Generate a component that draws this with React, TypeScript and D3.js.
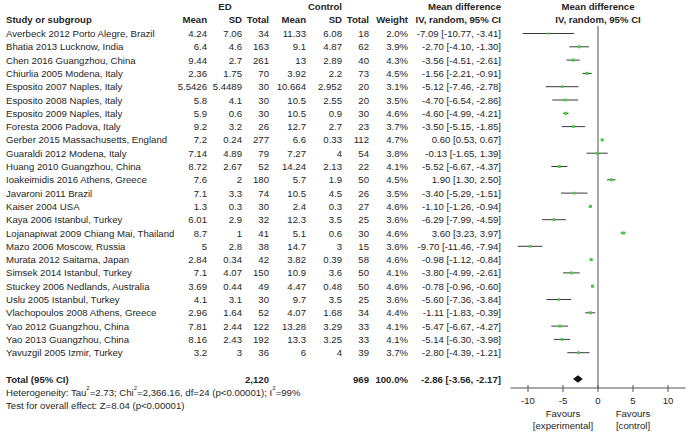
import React from "react";
import * as d3 from "d3";

const studies = [
  "Averbeck 2012 Porto Alegre, Brazil",
  "Bhatia 2013 Lucknow, India",
  "Chen 2016 Guangzhou, China",
  "Chiurlia 2005 Modena, Italy",
  "Esposito 2007 Naples, Italy",
  "Esposito 2008 Naples, Italy",
  "Esposito 2009 Naples, Italy",
  "Foresta 2006 Padova, Italy",
  "Gerber 2015 Massachusetts, England",
  "Guaraldi 2012 Modena, Italy",
  "Huang 2010 Guangzhou, China",
  "Ioakeimidis 2016 Athens, Greece",
  "Javaroni 2011 Brazil",
  "Kaiser 2004 USA",
  "Kaya 2006 Istanbul, Turkey",
  "Lojanapiwat 2009 Chiang Mai, Thailand",
  "Mazo 2006 Moscow, Russia",
  "Murata 2012 Saitama, Japan",
  "Simsek 2014 Istanbul, Turkey",
  "Stuckey 2006 Nedlands, Australia",
  "Uslu 2005 Istanbul, Turkey",
  "Vlachopoulos 2008 Athens, Greece",
  "Yao 2012 Guangzhou, China",
  "Yao 2013 Guangzhou, China",
  "Yavuzgil 2005 Izmir, Turkey",
];
const edMean = ["4.24","6.4","9.44","2.36","5.5426","5.8","5.9","9.2","7.2","7.14","8.72","7.6","7.1","1.3","6.01","8.7","5","2.84","7.1","3.69","4.1","2.96","7.81","8.16","3.2"];
const edSD = ["7.06","4.6","2.7","1.75","5.4489","4.1","0.6","3.2","0.24","4.89","2.67","2","3.3","0.3","2.9","1","2.8","0.34","4.07","0.44","3.1","1.64","2.44","2.43","3"];
const edTotal = ["34","163","261","70","30","30","30","26","277","79","52","180","74","30","32","41","38","42","150","49","30","52","122","192","36"];
const ctlMean = ["11.33","9.1","13","3.92","10.664","10.5","10.5","12.7","6.6","7.27","14.24","5.7","10.5","2.4","12.3","5.1","14.7","3.82","10.9","4.47","9.7","4.07","13.28","13.3","6"];
const ctlSD = ["6.08","4.87","2.89","2.2","2.952","2.55","0.9","2.7","0.33","4","2.13","1.9","4.5","0.3","3.5","0.6","3","0.39","3.6","0.48","3.5","1.68","3.29","3.25","4"];
const ctlTotal = ["18","62","40","73","20","20","30","23","112","54","22","50","26","27","25","30","15","58","50","50","25","34","33","33","39"];
const weights = [2.0,3.9,4.3,4.5,3.1,3.5,4.6,3.7,4.7,3.8,4.1,4.5,3.5,4.6,3.6,4.6,3.6,4.6,4.1,4.6,3.6,4.4,4.1,4.1,3.7];
const md = [-7.09,-2.70,-3.56,-1.56,-5.12,-4.70,-4.60,-3.50,0.60,-0.13,-5.52,1.90,-3.40,-1.10,-6.29,3.60,-9.70,-0.98,-3.80,-0.78,-5.60,-1.11,-5.47,-5.14,-2.80];
const lo = [-10.77,-4.10,-4.51,-2.21,-7.46,-6.54,-4.99,-5.15,0.53,-1.65,-6.67,1.30,-5.29,-1.26,-7.99,3.23,-11.46,-1.12,-4.99,-0.96,-7.36,-1.83,-6.67,-6.30,-4.39];
const hi = [-3.41,-1.30,-2.61,-0.91,-2.78,-2.86,-4.21,-1.85,0.67,1.39,-4.37,2.50,-1.51,-0.94,-4.59,3.97,-7.94,-0.84,-2.61,-0.60,-3.84,-0.39,-4.27,-3.98,-1.21];

const totalED = "2,120";
const totalCtl = "969";
const totalWeight = "100.0%";
const totalMD = -2.86;
const totalLo = -3.56;
const totalHi = -2.17;
const axisTicks = [-10, -5, 0, 5, 10];
const xDomain = [-12.5, 12.5];

const FONT = "'Liberation Sans', Arial, sans-serif";
const FS = 9.6;
const TXT = "#262626";

const fmt = (v: number) => v.toFixed(2);

export default function App() {
  const x = d3.scaleLinear().domain(xDomain).range([510.5, 685.5]);
  const y = (i: number) => 33.5 + i * 13.3;
  const sq = d3.scaleSqrt().domain([0, 4.7]).range([0, 3.1]);
  const axisY = 388;
  const totalY = 379;

  const cols = [
    { x: 207, arr: edMean },
    { x: 242, arr: edSD },
    { x: 269, arr: edTotal },
    { x: 306, arr: ctlMean },
    { x: 342, arr: ctlSD },
    { x: 369, arr: ctlTotal },
  ];

  const t = (props: any, content: any) => (
    <text fontFamily={FONT} fontSize={FS} fill={TXT} dominantBaseline="central" {...props}>
      {content}
    </text>
  );

  return (
    <svg width={690} height={432} style={{ position: "absolute", left: 0, top: 0, background: "#fff" }}>
      {/* headers */}
      {t({ x: 225, y: 6, textAnchor: "middle", fontWeight: "bold" }, "ED")}
      {t({ x: 325, y: 6, textAnchor: "middle", fontWeight: "bold" }, "Control")}
      {t({ x: 501, y: 6, textAnchor: "end", fontWeight: "bold" }, "Mean difference")}
      {t({ x: 598, y: 6, textAnchor: "middle", fontWeight: "bold" }, "Mean difference")}
      {t({ x: 6, y: 19.5, fontWeight: "bold" }, "Study or subgroup")}
      {t({ x: 207, y: 19.5, textAnchor: "end", fontWeight: "bold" }, "Mean")}
      {t({ x: 242, y: 19.5, textAnchor: "end", fontWeight: "bold" }, "SD")}
      {t({ x: 269, y: 19.5, textAnchor: "end", fontWeight: "bold" }, "Total")}
      {t({ x: 306, y: 19.5, textAnchor: "end", fontWeight: "bold" }, "Mean")}
      {t({ x: 342, y: 19.5, textAnchor: "end", fontWeight: "bold" }, "SD")}
      {t({ x: 369, y: 19.5, textAnchor: "end", fontWeight: "bold" }, "Total")}
      {t({ x: 408, y: 19.5, textAnchor: "end", fontWeight: "bold" }, "Weight")}
      {t({ x: 501, y: 19.5, textAnchor: "end", fontWeight: "bold" }, "IV, random, 95% CI")}
      {t({ x: 598, y: 19.5, textAnchor: "middle", fontWeight: "bold" }, "IV, random, 95% CI")}

      {/* rows */}
      {studies.map((s, i) => (
        <g key={s}>
          {t({ x: 6, y: y(i) }, s)}
          {cols.map((c, j) => (
            <React.Fragment key={j}>{t({ x: c.x, y: y(i), textAnchor: "end" }, c.arr[i])}</React.Fragment>
          ))}
          {t({ x: 408, y: y(i), textAnchor: "end" }, weights[i].toFixed(1) + "%")}
          {t({ x: 501, y: y(i), textAnchor: "end" }, `${fmt(md[i])} [${fmt(lo[i])}, ${fmt(hi[i])}]`)}
        </g>
      ))}

      {/* zero line */}
      <line x1={x(0)} x2={x(0)} y1={26} y2={axisY} stroke="#555" strokeWidth={1} />

      {/* CI lines and squares */}
      {studies.map((s, i) => {
        const side = sq(weights[i]);
        return (
          <g key={"m" + s}>
            <line x1={x(lo[i])} x2={x(hi[i])} y1={y(i)} y2={y(i)} stroke="#3a3a3a" strokeWidth={1} />
            <rect x={x(md[i]) - side / 2} y={y(i) - side / 2} width={side} height={side} fill="#44cc44" />
          </g>
        );
      })}

      {/* total row */}
      {t({ x: 6, y: totalY, fontWeight: "bold" }, "Total (95% CI)")}
      {t({ x: 269, y: totalY, textAnchor: "end", fontWeight: "bold" }, totalED)}
      {t({ x: 369, y: totalY, textAnchor: "end", fontWeight: "bold" }, totalCtl)}
      {t({ x: 408, y: totalY, textAnchor: "end", fontWeight: "bold" }, totalWeight)}
      {t(
        { x: 501, y: totalY, textAnchor: "end", fontWeight: "bold" },
        `${fmt(totalMD)} [${fmt(totalLo)}, ${fmt(totalHi)}]`
      )}
      <path
        d={`M${x(totalLo)},${totalY} L${x(totalMD)},${totalY - 3.7} L${x(totalHi)},${totalY} L${x(totalMD)},${totalY + 3.7} Z`}
        fill="#111"
      />

      <text x={6} y={392} fontFamily={FONT} fontSize={FS} fill={TXT} dominantBaseline="central">
        Heterogeneity: Tau<tspan fontSize={6} dy={-4}>2</tspan>
        <tspan dy={4}>=2.73; Chi</tspan>
        <tspan fontSize={6} dy={-4}>2</tspan>
        <tspan dy={4}>=2,366.16, df=24 (p&lt;0.00001); I</tspan>
        <tspan fontSize={6} dy={-4}>2</tspan>
        <tspan dy={4}>=99%</tspan>
      </text>
      {t({ x: 6, y: 405 }, "Test for overall effect: Z=8.04 (p<0.00001)")}

      {/* axis */}
      <line x1={x(xDomain[0])} x2={x(xDomain[1])} y1={axisY} y2={axisY} stroke="#555" strokeWidth={1} />
      {axisTicks.map((v) => (
        <g key={v}>
          <line x1={x(v)} x2={x(v)} y1={axisY - 3} y2={axisY + 4} stroke="#555" strokeWidth={1} />
          {t({ x: x(v), y: 400, textAnchor: "middle" }, String(v))}
        </g>
      ))}
      {t({ x: x(-5), y: 413.5, textAnchor: "middle" }, "Favours")}
      {t({ x: x(-5), y: 425, textAnchor: "middle" }, "[experimental]")}
      {t({ x: x(5), y: 413.5, textAnchor: "middle" }, "Favours")}
      {t({ x: x(5), y: 425, textAnchor: "middle" }, "[control]")}
    </svg>
  );
}
